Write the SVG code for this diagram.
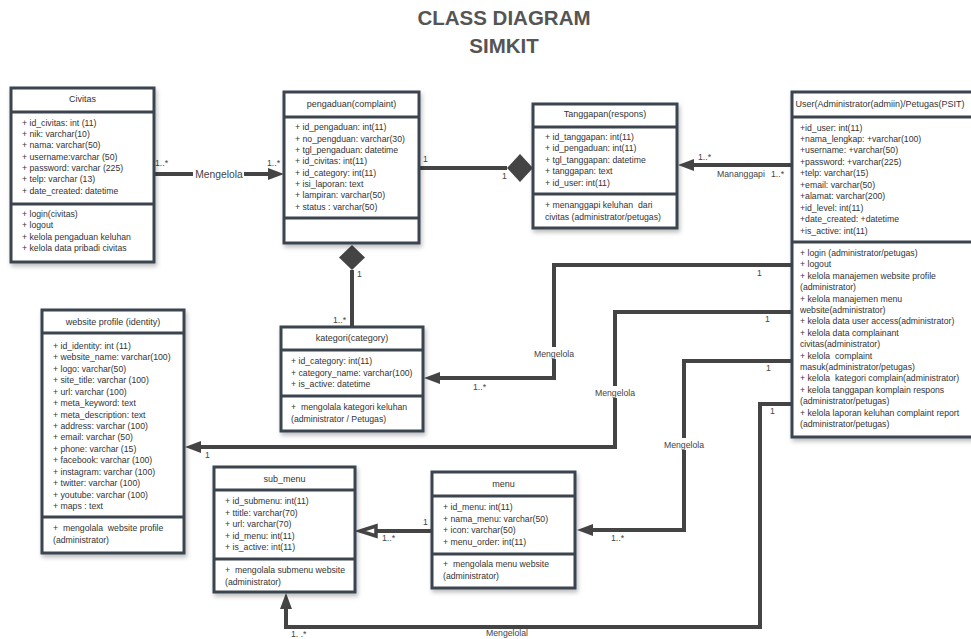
<svg xmlns="http://www.w3.org/2000/svg" width="971" height="639" viewBox="0 0 971 639">
<defs>
<style>
text{white-space:pre}
.box{fill:#fff;stroke:#3b444f;stroke-width:3}
.sep{stroke:#3b444f;stroke-width:3}
.t{font-family:"Liberation Sans",Arial,sans-serif;font-size:8.7px;fill:#333}
.h{font-family:"Liberation Sans",Arial,sans-serif;font-size:9px;fill:#333;text-anchor:middle}
.c{fill:none;stroke:#444;stroke-width:4}
.lbl{font-family:"Liberation Sans",Arial,sans-serif;font-size:8.7px;fill:#444}
.mid{text-anchor:middle}
.title{font-family:"Liberation Sans",Arial,sans-serif;font-size:20.5px;font-weight:bold;fill:#555;text-anchor:middle}
</style>
<filter id="sh" x="-10%" y="-10%" width="130%" height="130%">
<feDropShadow dx="1.5" dy="3" stdDeviation="2" flood-color="#000" flood-opacity="0.25"/>
</filter>
<marker id="arr" viewBox="0 0 16 12" refX="0" refY="6" markerWidth="16" markerHeight="12" markerUnits="userSpaceOnUse" orient="auto">
<path d="M0,0 L16,6 L0,12 z" fill="#444"/>
</marker>
</defs>
<rect width="971" height="639" fill="#fff"/>
<text class="title" x="504" y="25">CLASS DIAGRAM</text>
<text class="title" x="504" y="53">SIMKIT</text>

<g id="connectors">
<path class="c" d="M154,174 H268" marker-end="url(#arr)"/>
<rect x="193" y="167" width="51" height="13" fill="#fff"/>
<text class="lbl" x="219" y="177.5" style="font-size:10.3px" text-anchor="middle">Mengelola</text>
<text class="lbl" x="155" y="166">1..*</text>
<text class="lbl" x="267" y="166">1..*</text>

<path class="c" d="M419,168 H507"/>
<polygon points="507,168 520,154 533,168 520,182" fill="#444"/>
<text class="lbl" x="423" y="162">1</text>
<text class="lbl" x="502" y="179">1</text>

<path class="c" d="M792,165 H694" marker-end="url(#arr)"/>
<text class="lbl" x="698" y="160">1..*</text>
<text class="lbl" x="717" y="177">Mananggapi</text>
<text class="lbl" x="771" y="177">1..*</text>

<polygon points="352,245 365,257.5 352,270 339,257.5" fill="#444"/>
<path class="c" d="M352,270 V327"/>
<text class="lbl" x="357" y="277">1</text>
<text class="lbl" x="333" y="323">1..*</text>

<path class="c" d="M792,265 H554 V378 H440" marker-end="url(#arr)"/>
<rect x="532" y="347" width="44" height="12" fill="#fff"/>
<text class="lbl mid" x="554" y="357">Mengelola</text>
<text class="lbl" x="757" y="276">1</text>
<text class="lbl" x="473" y="390">1..*</text>

<path class="c" d="M792,312 H615 V447 H201" marker-end="url(#arr)"/>
<rect x="593" y="386" width="44" height="12" fill="#fff"/>
<text class="lbl mid" x="615" y="396">Mengelola</text>
<text class="lbl" x="765" y="322">1</text>
<text class="lbl" x="205" y="458">1</text>

<path class="c" d="M792,361 H684 V530 H593" marker-end="url(#arr)"/>
<rect x="662" y="438" width="44" height="12" fill="#fff"/>
<text class="lbl mid" x="684" y="448">Mengelola</text>
<text class="lbl" x="766" y="371">1</text>
<text class="lbl" x="611" y="541">1..*</text>

<path class="c" d="M792,404 H760 V627 H286 V609" marker-end="url(#arr)"/>
<text class="lbl" x="770" y="414">1</text>
<text class="lbl mid" x="507" y="636">Mengelolal</text>
<text class="lbl" x="291" y="637">1. .*</text>

<path class="c" d="M432,531 H377"/>
<polygon points="376,526 376,536 360,531" fill="#fff" stroke="#444" stroke-width="3.5" stroke-linejoin="miter"/>
<text class="lbl" x="382" y="541">1..*</text>
<text class="lbl" x="423" y="525">1</text>
</g>

<g id="civitas">
<rect class="box" x="11" y="88" width="143" height="174" filter="url(#sh)"/>
<line class="sep" x1="11" y1="112" x2="154" y2="112"/>
<line class="sep" x1="11" y1="204" x2="154" y2="204"/>
<text class="h" x="82.5" y="102">Civitas</text>
<text class="t" x="22" y="126">+ id_civitas: int (11)</text>
<text class="t" x="22" y="137">+ nik: varchar(10)</text>
<text class="t" x="22" y="148">+ nama: varchar(50)</text>
<text class="t" x="22" y="159.5">+ username:varchar (50)</text>
<text class="t" x="22" y="171">+ password: varchar (225)</text>
<text class="t" x="22" y="182">+ telp: varchar (13)</text>
<text class="t" x="22" y="193.5">+ date_created: datetime</text>
<text class="t" x="22" y="217">+ login(civitas)</text>
<text class="t" x="22" y="228">+ logout</text>
<text class="t" x="22" y="239.5">+ kelola pengaduan keluhan</text>
<text class="t" x="22" y="250.5">+ kelola data pribadi civitas</text>
</g>

<g id="pengaduan">
<rect class="box" x="284" y="92" width="135" height="151" filter="url(#sh)"/>
<line class="sep" x1="284" y1="117" x2="419" y2="117"/>
<line class="sep" x1="284" y1="218" x2="419" y2="218"/>
<text class="h" x="351.5" y="107">pengaduan(complaint)</text>
<text class="t" x="295" y="130">+ id_pengaduan: int(11)</text>
<text class="t" x="295" y="141.5">+ no_pengduan: varchar(30)</text>
<text class="t" x="295" y="152.5">+ tgl_pengaduan: datetime</text>
<text class="t" x="295" y="164">+ id_civitas: int(11)</text>
<text class="t" x="295" y="175.5">+ id_category: int(11)</text>
<text class="t" x="295" y="186.5">+ isi_laporan: text</text>
<text class="t" x="295" y="198">+ lampiran: varchar(50)</text>
<text class="t" x="295" y="209.5">+ status : varchar(50)</text>
</g>

<g id="tanggapan">
<rect class="box" x="533" y="104" width="144" height="124" filter="url(#sh)"/>
<line class="sep" x1="533" y1="127" x2="677" y2="127"/>
<line class="sep" x1="533" y1="194" x2="677" y2="194"/>
<text class="h" x="605" y="117">Tanggapan(respons)</text>
<text class="t" x="545" y="140">+ id_tanggapan: int(11)</text>
<text class="t" x="545" y="151">+ id_pengaduan: int(11)</text>
<text class="t" x="545" y="162.5">+ tgl_tanggapan: datetime</text>
<text class="t" x="545" y="174">+ tanggapan: text</text>
<text class="t" x="545" y="185.5">+ id_user: int(11)</text>
<text class="t" x="545" y="208">+ menanggapi keluhan  dari</text>
<text class="t" x="545" y="220">civitas (administrator/petugas)</text>
</g>

<g id="user">
<rect class="box" x="792" y="92" width="183" height="345" filter="url(#sh)"/>
<line class="sep" x1="792" y1="117" x2="975" y2="117"/>
<line class="sep" x1="792" y1="242" x2="975" y2="242"/>
<text class="h" x="880" y="107">User(Administrator(admiin)/Petugas(PSIT)</text>
<text class="t" x="800" y="131">+id_user: int(11)</text>
<text class="t" x="800" y="142">+nama_lengkap: +varchar(100)</text>
<text class="t" x="800" y="153">+username: +varchar(50)</text>
<text class="t" x="800" y="164.5">+password: +varchar(225)</text>
<text class="t" x="800" y="176">+telp: varchar(15)</text>
<text class="t" x="800" y="187.5">+email: varchar(50)</text>
<text class="t" x="800" y="199">+alamat: varchar(200)</text>
<text class="t" x="800" y="210.5">+id_level: int(11)</text>
<text class="t" x="800" y="222">+date_created: +datetime</text>
<text class="t" x="800" y="233.5">+is_active: int(11)</text>
<text class="t" x="800" y="256">+ login (administrator/petugas)</text>
<text class="t" x="800" y="267.4">+ logout</text>
<text class="t" x="800" y="278.8">+ kelola manajemen website profile</text>
<text class="t" x="800" y="290.2">(administrator)</text>
<text class="t" x="800" y="301.6">+ kelola manajemen menu</text>
<text class="t" x="800" y="313">website(administrator)</text>
<text class="t" x="800" y="324.4">+ kelola data user access(administrator)</text>
<text class="t" x="800" y="335.8">+ kelola data complainant</text>
<text class="t" x="800" y="347.2">civitas(administrator)</text>
<text class="t" x="800" y="358.6">+ kelola  complaint</text>
<text class="t" x="800" y="370">masuk(administrator/petugas)</text>
<text class="t" x="800" y="381.4">+ kelola  kategori complain(administrator)</text>
<text class="t" x="800" y="392.8">+ kelola tanggapan komplain respons</text>
<text class="t" x="800" y="404.2">(administrator/petugas)</text>
<text class="t" x="800" y="415.6">+ kelola laporan keluhan complaint report</text>
<text class="t" x="800" y="427">(administrator/petugas)</text>
</g>

<g id="website-profile">
<rect class="box" x="42" y="310" width="142" height="243" filter="url(#sh)"/>
<line class="sep" x1="42" y1="333" x2="184" y2="333"/>
<line class="sep" x1="42" y1="517" x2="184" y2="517"/>
<text class="h" x="113" y="325">website profile (identity)</text>
<text class="t" x="53" y="349">+ id_identity: int (11)</text>
<text class="t" x="53" y="360.4">+ website_name: varchar(100)</text>
<text class="t" x="53" y="371.9">+ logo: varchar(50)</text>
<text class="t" x="53" y="383.3">+ site_title: varchar (100)</text>
<text class="t" x="53" y="394.7">+ url: varchar (100)</text>
<text class="t" x="53" y="406.2">+ meta_keyword: text</text>
<text class="t" x="53" y="417.6">+ meta_description: text</text>
<text class="t" x="53" y="429">+ address: varchar (100)</text>
<text class="t" x="53" y="440.4">+ email: varchar (50)</text>
<text class="t" x="53" y="451.9">+ phone: varchar (15)</text>
<text class="t" x="53" y="463.3">+ facebook: varchar (100)</text>
<text class="t" x="53" y="474.7">+ instagram: varchar (100)</text>
<text class="t" x="53" y="486.2">+ twitter: varchar (100)</text>
<text class="t" x="53" y="497.6">+ youtube: varchar (100)</text>
<text class="t" x="53" y="509">+ maps : text</text>
<text class="t" x="53" y="531">+  mengolala  website profile</text>
<text class="t" x="53" y="543">(administrator)</text>
</g>

<g id="kategori">
<rect class="box" x="281" y="327" width="142" height="104" filter="url(#sh)"/>
<line class="sep" x1="281" y1="350" x2="423" y2="350"/>
<line class="sep" x1="281" y1="396" x2="423" y2="396"/>
<text class="h" x="352" y="341">kategori(category)</text>
<text class="t" x="291" y="364">+ id_category: int(11)</text>
<text class="t" x="291" y="375.5">+ category_name: varchar(100)</text>
<text class="t" x="291" y="387">+ is_active: datetime</text>
<text class="t" x="291" y="410">+  mengolala kategori keluhan</text>
<text class="t" x="291" y="421.5">(administrator / Petugas)</text>
</g>

<g id="sub-menu">
<rect class="box" x="214" y="467" width="141" height="125" filter="url(#sh)"/>
<line class="sep" x1="214" y1="490" x2="355" y2="490"/>
<line class="sep" x1="214" y1="559" x2="355" y2="559"/>
<text class="h" x="284.5" y="482">sub_menu</text>
<text class="t" x="225" y="504">+ id_submenu: int(11)</text>
<text class="t" x="225" y="515.5">+ ttitle: varchar(70)</text>
<text class="t" x="225" y="527">+ url: varchar(70)</text>
<text class="t" x="225" y="538.5">+ id_menu: int(11)</text>
<text class="t" x="225" y="550">+ is_active: int(11)</text>
<text class="t" x="225" y="573">+  mengolala submenu website</text>
<text class="t" x="225" y="584.5">(administrator)</text>
</g>

<g id="menu">
<rect class="box" x="432" y="472" width="143" height="116" filter="url(#sh)"/>
<line class="sep" x1="432" y1="496" x2="575" y2="496"/>
<line class="sep" x1="432" y1="554" x2="575" y2="554"/>
<text class="h" x="503.5" y="487">menu</text>
<text class="t" x="443" y="510">+ id_menu: int(11)</text>
<text class="t" x="443" y="521.5">+ nama_menu: varchar(50)</text>
<text class="t" x="443" y="533">+ icon: varchar(50)</text>
<text class="t" x="443" y="544.5">+ menu_order: int(11)</text>
<text class="t" x="443" y="567">+  mengolala menu website</text>
<text class="t" x="443" y="579">(administrator)</text>
</g>
</svg>
